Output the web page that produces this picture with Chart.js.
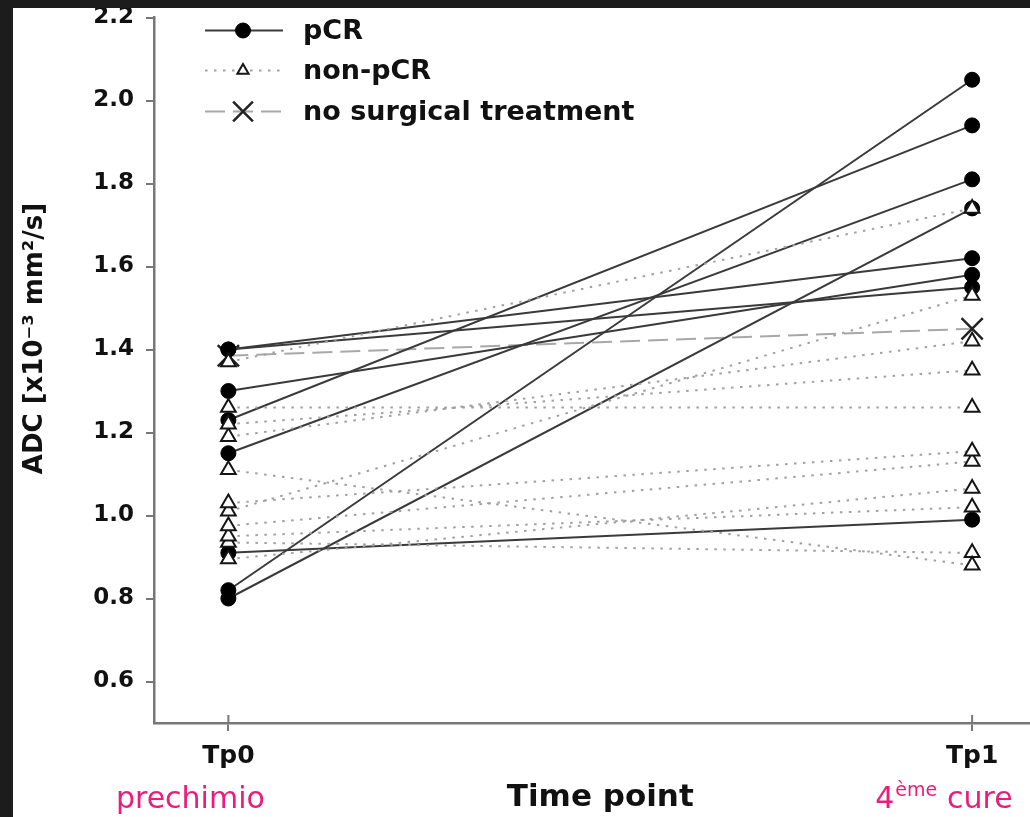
<!DOCTYPE html>
<html><head><meta charset="utf-8">
<script src="https://cdn.jsdelivr.net/npm/chart.js@4"></script>
<style>
html,body{margin:0;padding:0;overflow:hidden;background:#fff;}
#wrap{position:relative;width:1030px;height:817px;overflow:hidden;background:#fff;}
canvas{position:absolute;left:0;top:0;}
.bt{position:absolute;left:0;top:0;width:1030px;height:8px;background:#1c1c1c;}
.bl{position:absolute;left:0;top:0;width:13px;height:817px;background:#1c1c1c;}
</style></head><body>
<div id="wrap"><canvas id="c" width="1064" height="817"></canvas><div class="bt"></div><div class="bl"></div></div>
<script>
// ---- data ----
const timeLabels = ['Tp0', 'Tp1'];
const timeNotes = ['prechimio', '4ème cure'];
const yTicks = [0.6, 0.8, 1.0, 1.2, 1.4, 1.6, 1.8, 2.0, 2.2];
const pcrTp0 = [0.82, 0.80, 1.23, 1.15, 1.30, 1.40, 1.40, 0.91];
const pcrTp1 = [2.05, 1.74, 1.94, 1.81, 1.58, 1.62, 1.55, 0.99];
const nonpcrTp0 = [1.37, 1.26, 1.22, 1.19, 1.11, 1.03, 1.01, 0.975, 0.95, 0.935, 0.895];
const nonpcrTp1 = [1.74, 1.26, 1.35, 1.42, 0.88, 1.155, 1.53, 1.13, 1.02, 0.91, 1.065];
const nstTp0 = [1.385];
const nstTp1 = [1.45];
const seriesNames = ['pCR', 'non-pCR', 'no surgical treatment'];

const FONT = '"DejaVu Sans", Arial, sans-serif';
const styles = {
  pcr: {borderColor: '#3a3a3a', borderWidth: 2, borderDash: [], pointStyle: 'circle', pointRadius: 7.5,
        pointBackgroundColor: '#000', pointBorderColor: '#000', pointBorderWidth: 1, order: 1},
  non: {borderColor: '#a0a0a0', borderWidth: 2, borderDash: [2.5, 6.5], pointStyle: 'triangle', pointRadius: 8.5,
        pointBackgroundColor: '#fff', pointBorderColor: '#151515', pointBorderWidth: 2, order: 0},
  nst: {borderColor: '#a8a8a8', borderWidth: 2, borderDash: [20, 8], pointStyle: 'crossRot', pointRadius: 15,
        pointBackgroundColor: '#fff', pointBorderColor: '#222', pointBorderWidth: 2.5, order: 2}
};
function pairs(a, b, name, st) {
  return a.map((v, i) => Object.assign({label: name, data: [{x: 0, y: v}, {x: 1, y: b[i]}], fill: false, tension: 0,
    pointHoverRadius: st.pointRadius}, st));
}
const datasets = [].concat(
  pairs(nonpcrTp0, nonpcrTp1, seriesNames[1], styles.non),
  pairs(pcrTp0, pcrTp1, seriesNames[0], styles.pcr),
  pairs(nstTp0, nstTp1, seriesNames[2], styles.nst)
);

const overlay = {
  id: 'overlay',
  afterDraw(chart) {
    const ctx = chart.ctx, ca = chart.chartArea, xs = chart.scales.x;
    ctx.save();
    // inner part of x tick marks
    ctx.strokeStyle = '#777'; ctx.lineWidth = 2;
    timeLabels.forEach((_, i) => {
      const px = xs.getPixelForValue(i);
      ctx.beginPath(); ctx.moveTo(px, ca.bottom - 8); ctx.lineTo(px, ca.bottom); ctx.stroke();
    });
    // legend
    const lx0 = ca.left + 51, lx1 = ca.left + 129, mx = ca.left + 89, tx = ca.left + 149;
    const rows = [ca.top + 13, ca.top + 53, ca.top + 94];
    const keys = ['pcr', 'non', 'nst'], radii = [7.5, 6.5, 14];
    keys.forEach((k, i) => {
      const st = styles[k], y = rows[i];
      ctx.setLineDash(st.borderDash); ctx.strokeStyle = st.borderColor; ctx.lineWidth = st.borderWidth;
      ctx.beginPath(); ctx.moveTo(lx0, y); ctx.lineTo(lx1, y); ctx.stroke();
      ctx.setLineDash([]);
      ctx.fillStyle = st.pointBackgroundColor; ctx.strokeStyle = st.pointBorderColor; ctx.lineWidth = st.pointBorderWidth;
      Chart.helpers.drawPoint(ctx, {pointStyle: st.pointStyle, radius: radii[i], rotation: 0, borderWidth: st.pointBorderWidth}, mx, y);
      ctx.fillStyle = '#111'; ctx.font = 'bold 27px ' + FONT; ctx.textBaseline = 'middle'; ctx.textAlign = 'left';
      ctx.fillText(seriesNames[i], tx, y + 1);
    });
    // pink annotations under time points
    ctx.fillStyle = '#ec1c7c'; ctx.textBaseline = 'alphabetic';
    const p0 = xs.getPixelForValue(0), p1 = xs.getPixelForValue(1);
    ctx.font = '30px ' + FONT; ctx.textAlign = 'center';
    ctx.fillText(timeNotes[0], p0 - 38, 808);
    const parts = timeNotes[1].match(/^(\d)(\S+)\s(.*)$/);
    let x = p1 - 97; ctx.textAlign = 'left';
    ctx.font = '30px ' + FONT; ctx.fillText(parts[1], x, 808); x += ctx.measureText(parts[1]).width + 1;
    ctx.font = '19px ' + FONT; ctx.fillText(parts[2], x, 796); x += ctx.measureText(parts[2]).width + 10;
    ctx.font = '30px ' + FONT; ctx.fillText(parts[3], x, 808);
    ctx.restore();
  }
};

new Chart(document.getElementById('c'), {
  type: 'line',
  data: {datasets},
  plugins: [overlay],
  options: {
    responsive: false, animation: false,
    layout: {padding: {top: 16, right: 8, left: 0, bottom: 0}},
    plugins: {legend: {display: false}, tooltip: {enabled: false}},
    scales: {
      x: {
        type: 'linear', min: -0.1, max: 1.1,
        afterBuildTicks: s => { s.ticks = timeLabels.map((_, i) => ({value: i})); },
        afterFit: s => { s.height = 94; },
        ticks: {callback: (v, i) => timeLabels[i], font: {family: FONT, size: 25, weight: 'bold'}, color: '#111',
                padding: 10, maxRotation: 0, autoSkip: false},
        grid: {drawOnChartArea: false, drawTicks: true, tickLength: 8, color: '#777', lineWidth: 2},
        border: {color: '#777', width: 2.5},
        title: {display: true, text: 'Time point', font: {family: FONT, size: 31, weight: 'bold'}, color: '#111',
                padding: {top: 0, bottom: 0}}
      },
      y: {
        type: 'linear', min: 0.5, max: 2.2,
        afterBuildTicks: s => { s.ticks = yTicks.map(v => ({value: v})); },
        afterFit: s => { s.width = 154; s.paddingTop = 0; s.paddingBottom = 0; },
        ticks: {callback: v => v.toFixed(1), font: {family: FONT, size: 23, weight: 'bold'}, color: '#111', padding: 12},
        grid: {drawOnChartArea: false, drawTicks: true, tickLength: 8, color: '#777', lineWidth: 2},
        border: {color: '#777', width: 2.5},
        title: {display: true, text: '       ADC [x10⁻³ mm²/s]', font: {family: FONT, size: 26, weight: 'bold'}, color: '#111',
                padding: {top: 20, bottom: 0}}
      }
    }
  }
});
</script>
</body></html>
